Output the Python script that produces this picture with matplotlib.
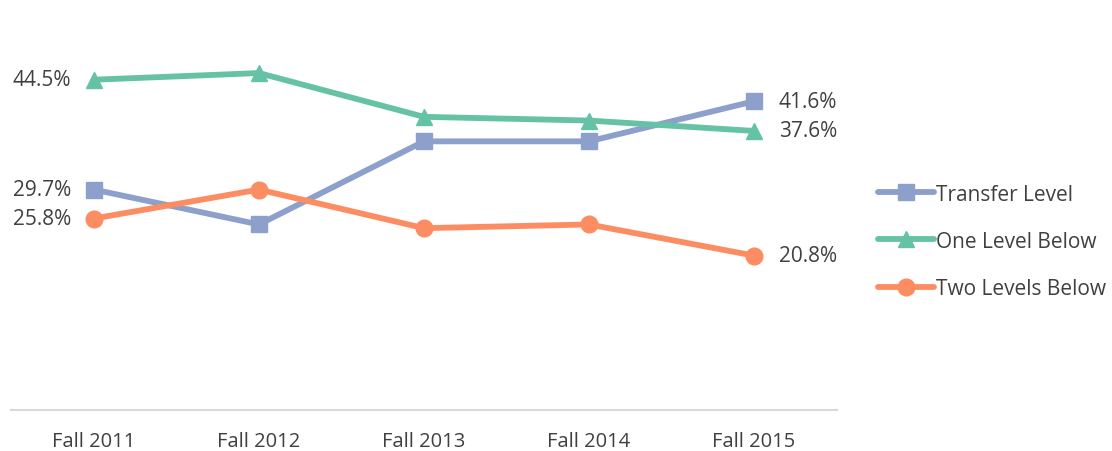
import matplotlib
matplotlib.use("Agg")
from matplotlib import pyplot as plt

# Data
terms = ["Fall 2011", "Fall 2012", "Fall 2013", "Fall 2014", "Fall 2015"]
transfer_level = [29.7, 25.0, 36.2, 36.2, 41.6]
one_level_below = [44.5, 45.4, 39.5, 39.0, 37.6]
two_levels_below = [25.8, 29.7, 24.5, 25.0, 20.8]

series = [
    ("Transfer Level", transfer_level, "#8DA0CB", "s"),
    ("One Level Below", one_level_below, "#66C2A5", "^"),
    ("Two Levels Below", two_levels_below, "#FC8D62", "o"),
]

text_color = "#404040"
plt.rcParams["font.family"] = ["Open Sans", "DejaVu Sans"]

fig = plt.figure(figsize=(11.12, 4.52), dpi=100)
ax = fig.add_axes([0.0103, 0.0907, 0.742, 0.821])

x = list(range(len(terms)))
for name, values, color, marker in series:
    ax.plot(x, values, color=color, linewidth=4.2, marker=marker,
            markersize=12, label=name, solid_capstyle="round")
    # first and last point labels
    ax.text(x[0] - 0.14, values[0], f"{values[0]:.1f}%", ha="right", va="center",
            fontsize=15, color=text_color)
    ax.text(x[-1] + 0.15, values[-1], f"{values[-1]:.1f}%", ha="left", va="center",
            fontsize=15, color=text_color)

ax.set_xlim(-0.5, len(terms) - 0.5)
ax.set_ylim(0, 50)
ax.set_xticks(x)
ax.set_xticklabels(terms, fontsize=14.5, color=text_color)
ax.tick_params(axis="x", length=0, pad=15)
ax.set_yticks([])
for side in ["top", "left", "right"]:
    ax.spines[side].set_visible(False)
ax.spines["bottom"].set_color("#D9D9D9")
ax.spines["bottom"].set_linewidth(1.5)

fig.legend(loc="center left", bbox_to_anchor=(0.773, 0.464), frameon=False,
           fontsize=15, handlelength=2.65, handletextpad=0.1,
           labelspacing=1.25, labelcolor=text_color)

fig.savefig("out.png", dpi=100)
